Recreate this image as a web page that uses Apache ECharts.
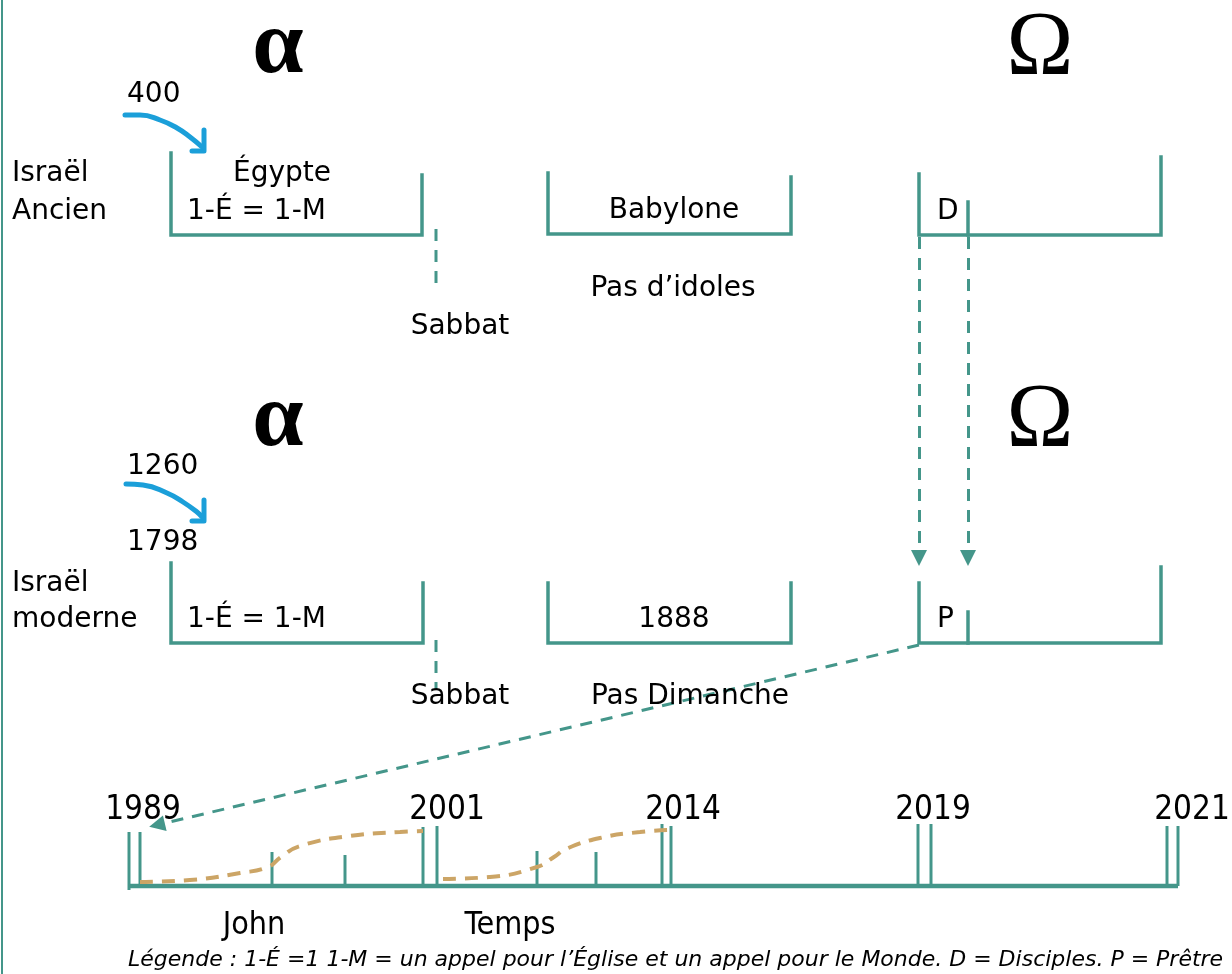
<!DOCTYPE html>
<html>
<head>
<meta charset="utf-8">
<script src="https://cdn.jsdelivr.net/npm/echarts@6/dist/echarts.min.js"></script>
<style>
html,body{margin:0;padding:0;background:#fff;}
#chart{width:1232px;height:974px;}
</style>
</head>
<body>
<div id="chart"></div>
<script>
// ---- Diagram data (diagram units on a 1232 x 974 canvas) ----
const frameLine = [[2, 0], [2, 974]];

const brackets = [
  [[171, 153], [171, 235], [422, 235], [422, 175]],
  [[548, 173], [548, 234], [791, 234], [791, 177]],
  [[919, 174], [919, 235], [1161, 235], [1161, 157]],
  [[968, 202], [968, 235]],
  [[171, 563], [171, 643], [423, 643], [423, 583]],
  [[548, 583], [548, 643], [791, 643], [791, 583]],
  [[919, 583], [919, 643], [1161, 643], [1161, 567]],
  [[968, 612], [968, 643]]
];

const timelineBase = [[129, 886], [1178, 886]];
const timelineTicks = [
  [[129, 832], [129, 890]], [[140, 832], [140, 886]],
  [[423, 827], [423, 886]], [[437, 826], [437, 886]],
  [[662, 824], [662, 886]], [[671, 826], [671, 886]],
  [[918, 824], [918, 886]], [[931, 824], [931, 886]],
  [[1167, 826], [1167, 886]], [[1178, 826], [1178, 886]],
  [[272, 852], [272, 886]], [[345, 855], [345, 886]],
  [[537, 851], [537, 886]], [[596, 852], [596, 886]]
];

const sabbathDashes = [
  [[436, 229], [436, 287]],
  [[436, 640], [436, 690]]
];

const dashedArrows = [
  [[919, 237], [919, 558]],
  [[968, 237], [968, 558]],
  [[919, 645], [157, 825]]
];

const tanCurve1 = [[140, 882], [190, 880], [240, 873], [268, 867], [281, 857], [300, 846], [350, 836], [400, 832], [423, 831]];
const tanCurve2 = [[443, 879], [490, 877], [537, 867], [554, 857], [566, 849], [600, 838], [640, 832], [670, 830]];

const blueCurve1 = [[125, 115], [140, 115], [160, 120], [177, 128], [190, 137], [202, 147]];
const blueHead1 = [[204, 130], [204, 151], [192, 151]];
const blueCurve2 = [[126, 484], [143, 485], [167, 493], [183, 502], [197, 512], [202, 517]];
const blueHead2 = [[204, 500], [204, 521], [192, 521]];

// text labels: [x, y, text]
const leftLabels = [
  [12, 174, 'Israël'], [12, 212, 'Ancien'],
  [12, 584, 'Israël'], [12, 620, 'moderne'],
  [127, 95, '400'], [127, 467, '1260'], [127, 543, '1798'],
  [187, 212, '1-É = 1-M'], [187, 620, '1-É = 1-M'],
  [937, 212, 'D'], [937, 620, 'P']
];
const centerLabels = [
  [282, 174, 'Égypte'], [674, 211, 'Babylone'], [673, 289, 'Pas d’idoles'],
  [460, 327, 'Sabbat'], [674, 620, '1888'],
  [460, 697, 'Sabbat'], [690, 697, 'Pas Dimanche']
];
const yearLabels = [
  [143, 810, '1989'], [447, 810, '2001'], [683, 810, '2014'],
  [933, 810, '2019'], [1192, 810, '2021']
];
const bottomLabels = [[254, 926, 'John'], [510, 926, 'Temps']];
const legendLabel = [[128, 960, 'Légende : 1-É =1 1-M = un appel pour l’Église et un appel pour le Monde. D = Disciples. P = Prêtre']];
const alphaLabels = [[278, 48, 'α'], [278, 421, 'α']];
const omegaLabels = [[1040, 50, 'Ω'], [1040, 422, 'Ω']];

// ---- styles ----
const TEAL = '#44968A';
const TAN = '#CCA566';
const BLUE = '#1B9FD9';
const NARROW = "'Liberation Sans Narrow', 'DejaVu Sans Condensed', 'Liberation Sans', sans-serif";

function textSeries(data, font, align) {
  return {
    type: 'scatter', data: data, symbolSize: 0, silent: true,
    itemStyle: { color: 'transparent', opacity: 1 },
    label: Object.assign({
      show: true, position: [0, 0], align: align, verticalAlign: 'middle',
      color: '#000000', opacity: 1, formatter: p => p.value[2]
    }, font)
  };
}
function linesSeries(data, style, extra) {
  return Object.assign({
    type: 'lines', coordinateSystem: 'cartesian2d', polyline: true, silent: true,
    data: data.map(c => ({ coords: c })),
    lineStyle: Object.assign({ opacity: 1, curveness: 0 }, style)
  }, extra || {});
}
function curveSeries(data, style) {
  return {
    type: 'line', data: data, smooth: 0.5, symbol: 'none', silent: true,
    lineStyle: style
  };
}

const chart = echarts.init(document.getElementById('chart'), null, { renderer: 'canvas' });
chart.setOption({
  animation: false,
  backgroundColor: '#fff',
  grid: { left: 0, right: 0, top: 0, bottom: 0 },
  xAxis: { type: 'value', min: 0, max: 1232, show: false },
  yAxis: { type: 'value', min: 0, max: 974, inverse: true, show: false },
  series: [
    linesSeries([frameLine], { color: TEAL, width: 2 }),
    linesSeries(brackets, { color: TEAL, width: 3.5, join: 'miter', cap: 'square' }),
    linesSeries([timelineBase], { color: TEAL, width: 4.5 }),
    linesSeries(timelineTicks, { color: TEAL, width: 3 }),
    linesSeries(sabbathDashes, { color: TEAL, width: 3, type: [12, 9] }),
    {
      type: 'lines', coordinateSystem: 'cartesian2d', silent: true,
      symbol: ['none', 'triangle'], symbolSize: [15, 16],
      data: dashedArrows.map(c => ({ coords: c })),
      lineStyle: { color: TEAL, width: 3, type: [12, 9], opacity: 1, curveness: 0 },
      itemStyle: { color: TEAL }
    },
    curveSeries(tanCurve1, { color: TAN, width: 4, type: [13, 9] }),
    curveSeries(tanCurve2, { color: TAN, width: 4, type: [13, 9] }),
    curveSeries(blueCurve1, { color: BLUE, width: 5, cap: 'round' }),
    curveSeries(blueCurve2, { color: BLUE, width: 5, cap: 'round' }),
    linesSeries([blueHead1, blueHead2], { color: BLUE, width: 5, cap: 'round', join: 'round' }),
    textSeries(leftLabels, { fontFamily: 'DejaVu Sans', fontSize: 28 }, 'left'),
    textSeries(centerLabels, { fontFamily: 'DejaVu Sans', fontSize: 28 }, 'center'),
    textSeries(yearLabels, { fontFamily: NARROW, fontSize: 33 }, 'center'),
    textSeries(bottomLabels, { fontFamily: NARROW, fontSize: 32 }, 'center'),
    textSeries(legendLabel, { fontFamily: 'DejaVu Sans', fontStyle: 'italic', fontSize: 22 }, 'left'),
    textSeries(alphaLabels, { fontFamily: 'Liberation Serif', fontWeight: 'bold', fontSize: 92 }, 'center'),
    textSeries(omegaLabels, { fontFamily: 'Liberation Serif', fontSize: 90 }, 'center')
  ]
});
</script>
</body>
</html>
